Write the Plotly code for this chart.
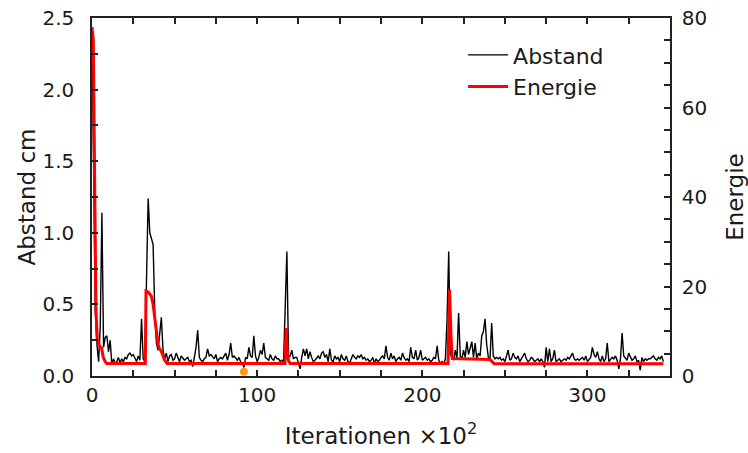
import plotly.graph_objects as go

# Abstand (left axis, cm), one value per 100 iterations
abstand = [
    2.40, 1.20, 0.45, 0.22, 0.10, 0.35, 1.14, 0.20, 0.27, 0.28,
    0.17, 0.25, 0.08, 0.12, 0.09, 0.10, 0.13, 0.09, 0.12, 0.10,
    0.13, 0.12, 0.15, 0.16, 0.14, 0.15, 0.12, 0.10, 0.14, 0.11,
    0.40, 0.12, 0.10, 0.75, 1.24, 1.00, 0.96, 0.92, 0.45, 0.23,
    0.18, 0.30, 0.41, 0.18, 0.12, 0.16, 0.10, 0.14, 0.15, 0.11,
    0.12, 0.16, 0.13, 0.10, 0.14, 0.12, 0.11, 0.12, 0.13, 0.10,
    0.11, 0.065, 0.13, 0.20, 0.32, 0.13, 0.11, 0.10, 0.12, 0.13,
    0.19, 0.14, 0.15, 0.13, 0.12, 0.15, 0.10, 0.12, 0.13, 0.12,
    0.14, 0.16, 0.11, 0.15, 0.23, 0.13, 0.14, 0.12, 0.11, 0.13,
    0.10, 0.09, 0.06, 0.13, 0.12, 0.20, 0.14, 0.13, 0.28, 0.14,
    0.10, 0.13, 0.18, 0.15, 0.23, 0.13, 0.12, 0.11, 0.15, 0.12,
    0.11, 0.14, 0.12, 0.12, 0.10, 0.11, 0.10, 0.45, 0.87, 0.13,
    0.14, 0.18, 0.12, 0.13, 0.13, 0.09, 0.05, 0.13, 0.19, 0.14,
    0.19, 0.12, 0.17, 0.13, 0.10, 0.11, 0.13, 0.14, 0.12, 0.16,
    0.17, 0.13, 0.15, 0.10, 0.19, 0.11, 0.10, 0.14, 0.12, 0.13,
    0.10, 0.15, 0.12, 0.11, 0.14, 0.10, 0.09, 0.12, 0.15, 0.13,
    0.12, 0.14, 0.13, 0.15, 0.12, 0.13, 0.11, 0.12, 0.10, 0.11,
    0.13, 0.09, 0.12, 0.10, 0.11, 0.13, 0.14, 0.12, 0.21, 0.13,
    0.11, 0.16, 0.12, 0.14, 0.10, 0.12, 0.13, 0.11, 0.16, 0.13,
    0.11, 0.12, 0.10, 0.20, 0.13, 0.12, 0.18, 0.11, 0.13, 0.18,
    0.11, 0.12, 0.13, 0.11, 0.12, 0.10, 0.11, 0.13, 0.12, 0.21,
    0.11, 0.09, 0.10, 0.08, 0.12, 0.40, 0.87, 0.15, 0.13, 0.11,
    0.18, 0.12, 0.44, 0.14, 0.12, 0.18, 0.13, 0.24, 0.15, 0.20,
    0.24, 0.13, 0.23, 0.12, 0.16, 0.14, 0.28, 0.31, 0.40, 0.22,
    0.13, 0.11, 0.37, 0.14, 0.12, 0.13, 0.12, 0.13, 0.11, 0.12,
    0.10, 0.14, 0.18, 0.11, 0.12, 0.16, 0.13, 0.12, 0.14, 0.10,
    0.12, 0.13, 0.16, 0.12, 0.10, 0.11, 0.13, 0.12, 0.10, 0.11,
    0.12, 0.10, 0.12, 0.10, 0.06, 0.20, 0.10, 0.19, 0.10, 0.12,
    0.18, 0.10, 0.11, 0.12, 0.10, 0.11, 0.12, 0.11, 0.13, 0.12,
    0.14, 0.16, 0.12, 0.11, 0.12, 0.11, 0.12, 0.13, 0.11, 0.14,
    0.10, 0.12, 0.13, 0.20, 0.15, 0.13, 0.17, 0.12, 0.10, 0.14,
    0.10, 0.12, 0.23, 0.10, 0.12, 0.13, 0.12, 0.14, 0.11, 0.05,
    0.12, 0.30, 0.14, 0.12, 0.11, 0.16, 0.13, 0.11, 0.12, 0.14,
    0.10, 0.11, 0.04, 0.13, 0.10, 0.12, 0.11, 0.12, 0.12, 0.13,
    0.14, 0.12, 0.11, 0.13, 0.12, 0.14, 0.10,
]
iterationen = list(range(len(abstand)))

# Energie (right axis)
energie_x = [
    0, 0.8, 1.3, 1.8, 2.4, 3.2, 4.8, 5.8, 6.8, 8.0, 9.0,
    32.3, 32.7, 34.0, 36.0, 37.0, 38.0, 39.0, 40.0, 41.0, 42.0, 43.0, 44.0, 45.5,
    116.8, 117.6, 118.3, 119.0, 120.0,
    215.6, 216.5, 217.4, 218.2, 241.0, 243.5, 346,
]
energie = [
    78, 75, 55, 30, 15, 8.0, 6.5, 6.3, 4.2, 3.2, 2.8,
    2.8, 19.0, 18.8, 17.8, 16.0, 12.5, 9.0, 7.0, 6.0, 5.5, 4.5, 3.5, 2.8,
    2.8, 10.7, 5.0, 3.4, 2.8,
    2.8, 19.3, 9.0, 3.9, 3.7, 2.75, 2.75,
]

marker_x = [92]
marker_y = [0.03]

FONT = "DejaVu Sans"
TXT = "#1a1a1a"

fig = go.Figure()
fig.add_trace(go.Scatter(x=iterationen, y=abstand, mode="lines", name="Abstand",
                         line=dict(color="black", width=1.4)))
fig.add_trace(go.Scatter(x=energie_x, y=energie, mode="lines", name="Energie",
                         yaxis="y2", line=dict(color="#ff0000", width=3)))
fig.add_trace(go.Scatter(x=marker_x, y=marker_y, mode="markers", showlegend=False,
                         marker=dict(color="#ff9a1a", size=8)))

tickfont = dict(family=FONT, size=20, color=TXT)
titlefont = dict(family=FONT, size=23, color=TXT)
legendfont = dict(family=FONT, size=22, color=TXT)

axis_common = dict(showgrid=False, zeroline=False, showline=True, linecolor="#222",
                   linewidth=1.5, ticks="inside", tickcolor="#222", ticklen=6,
                   tickwidth=1.5, tickfont=tickfont, automargin=False)

fig.update_layout(
    width=748, height=453,
    margin=dict(l=92, r=78, t=18, b=77),
    paper_bgcolor="white", plot_bgcolor="white",
    font=dict(family=FONT, size=20, color=TXT),
    xaxis=dict(range=[0, 350], tickvals=[0, 100, 200, 300], mirror="ticks",
               minor=dict(dtick=25, tick0=0, ticks="inside", ticklen=6, tickcolor="#222", tickwidth=1.5),
               title=dict(text="Iterationen ×10<sup>2</sup>", font=titlefont, standoff=22),
               **axis_common),
    yaxis=dict(range=[0, 2.5], tickvals=[0, 0.5, 1.0, 1.5, 2.0, 2.5], tickformat=".1f",
               minor=dict(dtick=0.25, tick0=0, ticks="inside", ticklen=6, tickcolor="#222", tickwidth=1.5),
               ticklabelstandoff=12,
               title=dict(text="Abstand cm", font=titlefont, standoff=0),
               **axis_common),
    yaxis2=dict(range=[0, 80], overlaying="y", side="right", tickvals=[0, 20, 40, 60, 80],
                minor=dict(dtick=5, tick0=0, ticks="inside", ticklen=6, tickcolor="#222", tickwidth=1.5),
                ticklabelstandoff=6,
                title=dict(text="Energie", font=titlefont, standoff=24),
                **axis_common),
    legend=dict(x=0.642, y=0.955, xanchor="left", yanchor="top", bgcolor="rgba(0,0,0,0)",
                font=legendfont, itemwidth=40, tracegroupgap=0),
)

fig.write_html("out.html")
